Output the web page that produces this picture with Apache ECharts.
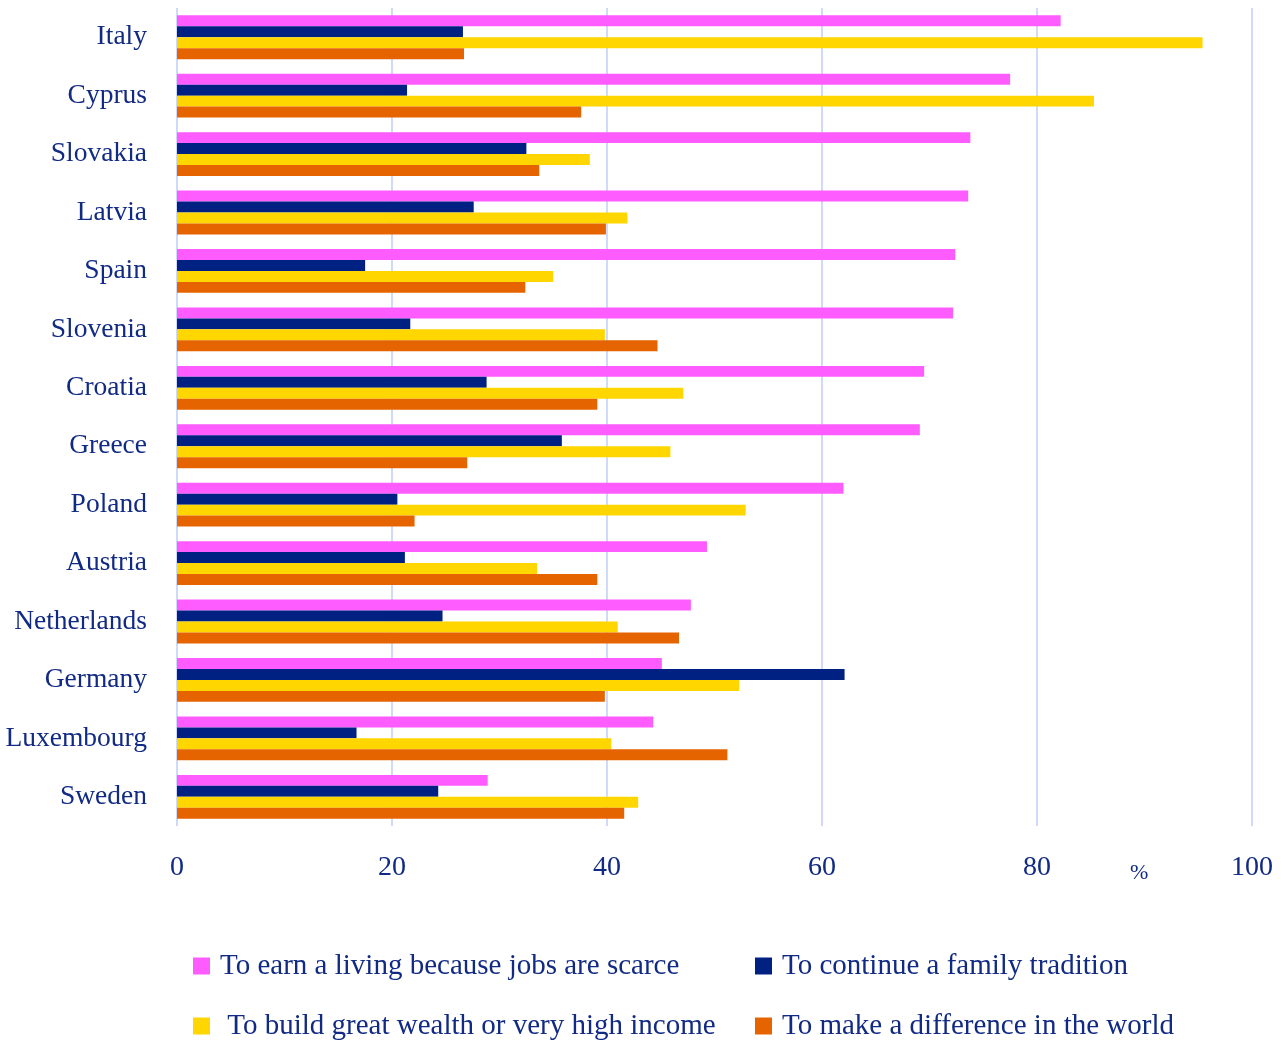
<!DOCTYPE html>
<html>
<head>
<meta charset="utf-8">
<script src="https://cdn.jsdelivr.net/npm/echarts@6/dist/echarts.min.js"></script>
<style>
html,body{margin:0;padding:0;background:#fff;}
#chart{width:1287px;height:1041px;}
</style>
</head>
<body>
<div id="chart"></div>
<script>
const countries = ["Italy","Cyprus","Slovakia","Latvia","Spain","Slovenia","Croatia","Greece","Poland","Austria","Netherlands","Germany","Luxembourg","Sweden"];
const seriesNames = ["To earn a living because jobs are scarce","To continue a family tradition"," To build great wealth or very high income","To make a difference in the world"];
const earnLiving   = [82.2,77.5,73.8,73.6,72.4,72.2,69.5,69.1,62.0,49.3,47.8,45.1,44.3,28.9];
const familyTrad   = [26.6,21.4,32.5,27.6,17.5,21.7,28.8,35.8,20.5,21.2,24.7,62.1,16.7,24.3];
const buildWealth  = [95.4,85.3,38.4,41.9,35.0,39.8,47.1,45.9,52.9,33.5,41.0,52.3,40.4,42.9];
const makeDiff     = [26.7,37.6,33.7,39.9,32.4,44.7,39.1,27.0,22.1,39.1,46.7,39.8,51.2,41.6];
const xTicks = [0,20,40,60,80,100];

const colors = ["#ff5cff","#002082","#ffd600","#e66400"];
const txt = "#112a84";
const font = "Liberation Serif";

const chart = echarts.init(document.getElementById('chart'));
const values = [earnLiving, familyTrad, buildWealth, makeDiff];
const legendPos = [[193, 951], [755, 951], [193, 1011], [755, 1011]];
const legends = seriesNames.map((n, i) => ({
  orient: 'horizontal', icon: 'rect', itemWidth: 17, itemHeight: 17,
  textStyle: {fontFamily: font, fontSize: 29, lineHeight: 30, color: txt, padding: [0,0,0,5]},
  selectedMode: false, left: legendPos[i][0], top: legendPos[i][1], padding: 0,
  data: [n]
}));
chart.setOption({
  animation: false,
  color: colors,
  grid: {left: 177, right: 35, top: 8, bottom: 215},
  xAxis: {
    type: 'value', min: xTicks[0], max: xTicks[xTicks.length-1], interval: 20,
    axisLine: {show: false}, axisTick: {show: false},
    splitLine: {show: true, lineStyle: {color: '#c4d1fa', width: 1.6}},
    axisLabel: {fontFamily: font, fontSize: 28, color: txt, margin: 28}
  },
  yAxis: {
    type: 'category', data: countries, inverse: true,
    axisLine: {show: false}, axisTick: {show: false},
    axisLabel: {fontFamily: font, fontSize: 27.5, color: txt, margin: 30}
  },
  legend: legends,
  graphic: [{
    type: 'text', left: 1130, top: 862,
    style: {text: '%', fontFamily: font, fontSize: 22, fill: txt}
  }],
  series: values.map((v, i) => ({
    name: seriesNames[i], type: 'bar', data: v,
    barGap: '0%', barCategoryGap: '25%',
    itemStyle: {color: colors[i]}
  }))
});
</script>
</body>
</html>
